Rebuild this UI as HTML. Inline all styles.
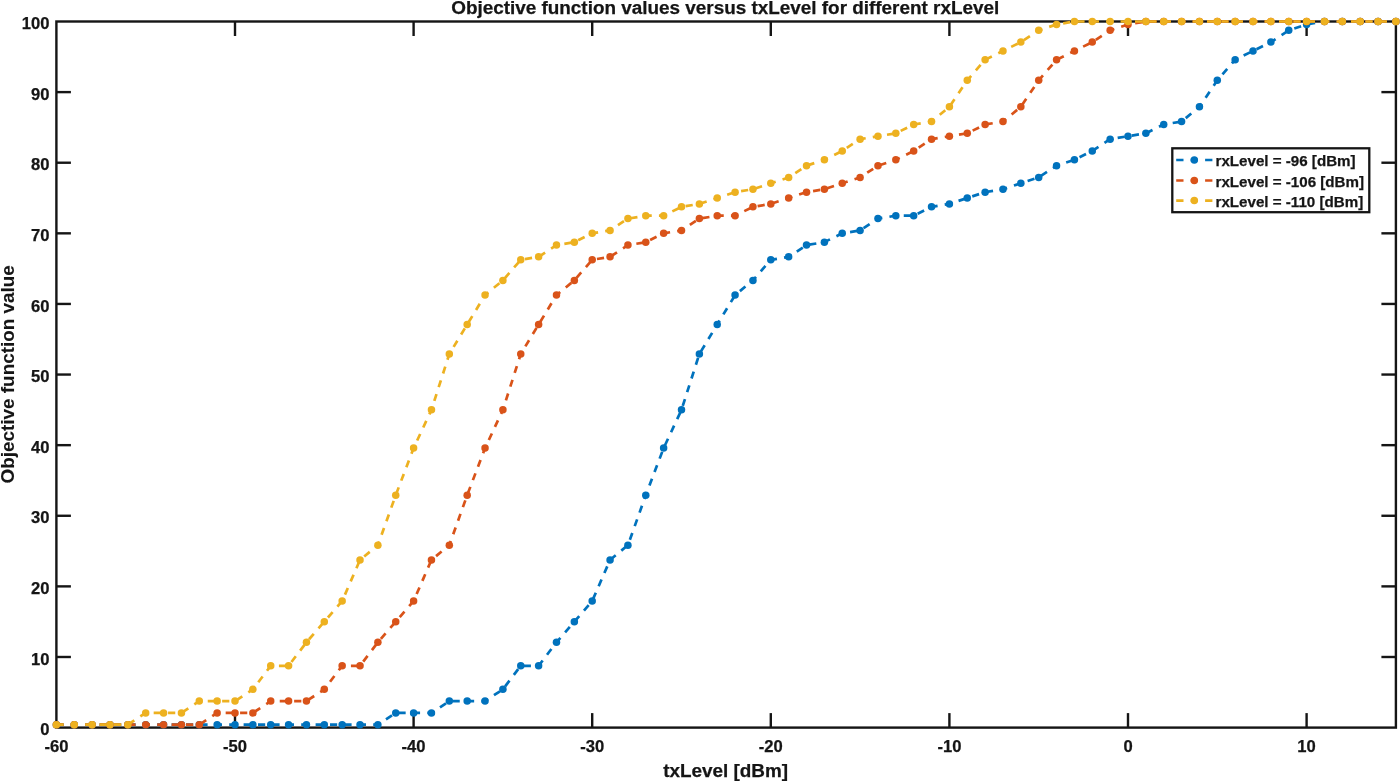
<!DOCTYPE html>
<html lang="en">
<head>
<meta charset="utf-8">
<title>Objective function values versus txLevel for different rxLevel</title>
<style>
html,body{margin:0;padding:0;background:#fff;}
body{width:1400px;height:781px;overflow:hidden;}
svg{display:block;}
text{font-family:"Liberation Sans",Arial,Helvetica,sans-serif;font-weight:bold;fill:#151515;stroke:#151515;stroke-width:0.25px;}
.tk{font-size:16.6px;}
.lb{font-size:18.9px;}
.lg{font-size:15.15px;}
</style>
</head>
<body>
<svg width="1400" height="781" viewBox="0 0 1400 781">
<rect x="0" y="0" width="1400" height="781" fill="#ffffff"/>

<g id="axes" stroke="#151515" stroke-width="2.4" fill="none" stroke-linecap="butt">
<rect x="56.40" y="21.50" width="1339.50" height="706.10"/>
<line x1="235.00" y1="727.60" x2="235.00" y2="713.10"/>
<line x1="235.00" y1="21.50" x2="235.00" y2="36.00"/>
<line x1="413.60" y1="727.60" x2="413.60" y2="713.10"/>
<line x1="413.60" y1="21.50" x2="413.60" y2="36.00"/>
<line x1="592.20" y1="727.60" x2="592.20" y2="713.10"/>
<line x1="592.20" y1="21.50" x2="592.20" y2="36.00"/>
<line x1="770.80" y1="727.60" x2="770.80" y2="713.10"/>
<line x1="770.80" y1="21.50" x2="770.80" y2="36.00"/>
<line x1="949.40" y1="727.60" x2="949.40" y2="713.10"/>
<line x1="949.40" y1="21.50" x2="949.40" y2="36.00"/>
<line x1="1128.00" y1="727.60" x2="1128.00" y2="713.10"/>
<line x1="1128.00" y1="21.50" x2="1128.00" y2="36.00"/>
<line x1="1306.60" y1="727.60" x2="1306.60" y2="713.10"/>
<line x1="1306.60" y1="21.50" x2="1306.60" y2="36.00"/>
<line x1="56.40" y1="656.99" x2="70.90" y2="656.99"/>
<line x1="1395.90" y1="656.99" x2="1381.40" y2="656.99"/>
<line x1="56.40" y1="586.38" x2="70.90" y2="586.38"/>
<line x1="1395.90" y1="586.38" x2="1381.40" y2="586.38"/>
<line x1="56.40" y1="515.77" x2="70.90" y2="515.77"/>
<line x1="1395.90" y1="515.77" x2="1381.40" y2="515.77"/>
<line x1="56.40" y1="445.16" x2="70.90" y2="445.16"/>
<line x1="1395.90" y1="445.16" x2="1381.40" y2="445.16"/>
<line x1="56.40" y1="374.55" x2="70.90" y2="374.55"/>
<line x1="1395.90" y1="374.55" x2="1381.40" y2="374.55"/>
<line x1="56.40" y1="303.94" x2="70.90" y2="303.94"/>
<line x1="1395.90" y1="303.94" x2="1381.40" y2="303.94"/>
<line x1="56.40" y1="233.33" x2="70.90" y2="233.33"/>
<line x1="1395.90" y1="233.33" x2="1381.40" y2="233.33"/>
<line x1="56.40" y1="162.72" x2="70.90" y2="162.72"/>
<line x1="1395.90" y1="162.72" x2="1381.40" y2="162.72"/>
<line x1="56.40" y1="92.11" x2="70.90" y2="92.11"/>
<line x1="1395.90" y1="92.11" x2="1381.40" y2="92.11"/>
</g>
<g id="xticklabels" class="tk" text-anchor="middle">
<text x="56.40" y="751.6">-60</text>
<text x="235.00" y="751.6">-50</text>
<text x="413.60" y="751.6">-40</text>
<text x="592.20" y="751.6">-30</text>
<text x="770.80" y="751.6">-20</text>
<text x="949.40" y="751.6">-10</text>
<text x="1128.00" y="751.6">0</text>
<text x="1306.60" y="751.6">10</text>
</g>
<g id="yticklabels" class="tk" text-anchor="end">
<text x="49.5" y="735.20">0</text>
<text x="49.5" y="664.59">10</text>
<text x="49.5" y="593.98">20</text>
<text x="49.5" y="523.37">30</text>
<text x="49.5" y="452.76">40</text>
<text x="49.5" y="382.15">50</text>
<text x="49.5" y="311.54">60</text>
<text x="49.5" y="240.93">70</text>
<text x="49.5" y="170.32">80</text>
<text x="49.5" y="99.71">90</text>
<text x="49.5" y="29.10">100</text>
</g>
<text class="lb" text-anchor="middle" x="725.2" y="14.1">Objective function values versus txLevel for different rxLevel</text>
<text class="lb" text-anchor="middle" x="725.6" y="776.6">txLevel [dBm]</text>
<text class="lb" text-anchor="middle" transform="translate(14.2 374.3) rotate(-90)" style="stroke-width:0.1px">Objective function value</text>
<g id="s96">
<polyline fill="none" stroke="#0072bd" stroke-width="2.7" stroke-dasharray="7.2 7.2" stroke-linejoin="round" points="56.40,724.66 74.26,724.66 92.12,724.66 109.98,724.66 127.84,724.66 145.70,724.66 163.56,724.66 181.42,724.66 199.28,724.66 217.14,724.66 235.00,724.66 252.86,724.66 270.72,724.66 288.58,724.66 306.44,724.66 324.30,724.66 342.16,724.66 360.02,724.66 377.88,724.66 395.74,712.89 413.60,712.89 431.46,712.89 449.32,701.12 467.18,701.12 485.04,701.12 502.90,689.35 520.76,665.82 538.62,665.82 556.48,642.28 574.34,621.69 592.20,601.09 610.06,559.90 627.92,545.19 645.78,495.18 663.64,448.10 681.50,409.86 699.36,353.96 717.22,324.53 735.08,295.11 752.94,280.40 770.80,259.81 788.66,256.87 806.52,245.10 824.38,242.16 842.24,233.33 860.10,230.39 877.96,218.62 895.82,215.68 913.68,215.68 931.54,206.85 949.40,203.91 967.26,198.02 985.12,192.14 1002.98,189.20 1020.84,183.31 1038.70,177.43 1056.56,165.66 1074.42,159.78 1092.28,150.95 1110.14,139.18 1128.00,136.24 1145.86,133.30 1163.72,124.47 1181.58,121.53 1199.44,106.82 1217.30,80.34 1235.16,59.75 1253.02,50.92 1270.88,42.09 1288.74,30.33 1306.60,24.44 1324.46,21.50 1342.32,21.50 1360.18,21.50 1378.04,21.50 1395.90,21.50"/>
<g fill="#0072bd"><circle cx="56.40" cy="724.66" r="3.75"/><circle cx="74.26" cy="724.66" r="3.75"/><circle cx="92.12" cy="724.66" r="3.75"/><circle cx="109.98" cy="724.66" r="3.75"/><circle cx="127.84" cy="724.66" r="3.75"/><circle cx="145.70" cy="724.66" r="3.75"/><circle cx="163.56" cy="724.66" r="3.75"/><circle cx="181.42" cy="724.66" r="3.75"/><circle cx="199.28" cy="724.66" r="3.75"/><circle cx="217.14" cy="724.66" r="3.75"/><circle cx="235.00" cy="724.66" r="3.75"/><circle cx="252.86" cy="724.66" r="3.75"/><circle cx="270.72" cy="724.66" r="3.75"/><circle cx="288.58" cy="724.66" r="3.75"/><circle cx="306.44" cy="724.66" r="3.75"/><circle cx="324.30" cy="724.66" r="3.75"/><circle cx="342.16" cy="724.66" r="3.75"/><circle cx="360.02" cy="724.66" r="3.75"/><circle cx="377.88" cy="724.66" r="3.75"/><circle cx="395.74" cy="712.89" r="3.75"/><circle cx="413.60" cy="712.89" r="3.75"/><circle cx="431.46" cy="712.89" r="3.75"/><circle cx="449.32" cy="701.12" r="3.75"/><circle cx="467.18" cy="701.12" r="3.75"/><circle cx="485.04" cy="701.12" r="3.75"/><circle cx="502.90" cy="689.35" r="3.75"/><circle cx="520.76" cy="665.82" r="3.75"/><circle cx="538.62" cy="665.82" r="3.75"/><circle cx="556.48" cy="642.28" r="3.75"/><circle cx="574.34" cy="621.69" r="3.75"/><circle cx="592.20" cy="601.09" r="3.75"/><circle cx="610.06" cy="559.90" r="3.75"/><circle cx="627.92" cy="545.19" r="3.75"/><circle cx="645.78" cy="495.18" r="3.75"/><circle cx="663.64" cy="448.10" r="3.75"/><circle cx="681.50" cy="409.86" r="3.75"/><circle cx="699.36" cy="353.96" r="3.75"/><circle cx="717.22" cy="324.53" r="3.75"/><circle cx="735.08" cy="295.11" r="3.75"/><circle cx="752.94" cy="280.40" r="3.75"/><circle cx="770.80" cy="259.81" r="3.75"/><circle cx="788.66" cy="256.87" r="3.75"/><circle cx="806.52" cy="245.10" r="3.75"/><circle cx="824.38" cy="242.16" r="3.75"/><circle cx="842.24" cy="233.33" r="3.75"/><circle cx="860.10" cy="230.39" r="3.75"/><circle cx="877.96" cy="218.62" r="3.75"/><circle cx="895.82" cy="215.68" r="3.75"/><circle cx="913.68" cy="215.68" r="3.75"/><circle cx="931.54" cy="206.85" r="3.75"/><circle cx="949.40" cy="203.91" r="3.75"/><circle cx="967.26" cy="198.02" r="3.75"/><circle cx="985.12" cy="192.14" r="3.75"/><circle cx="1002.98" cy="189.20" r="3.75"/><circle cx="1020.84" cy="183.31" r="3.75"/><circle cx="1038.70" cy="177.43" r="3.75"/><circle cx="1056.56" cy="165.66" r="3.75"/><circle cx="1074.42" cy="159.78" r="3.75"/><circle cx="1092.28" cy="150.95" r="3.75"/><circle cx="1110.14" cy="139.18" r="3.75"/><circle cx="1128.00" cy="136.24" r="3.75"/><circle cx="1145.86" cy="133.30" r="3.75"/><circle cx="1163.72" cy="124.47" r="3.75"/><circle cx="1181.58" cy="121.53" r="3.75"/><circle cx="1199.44" cy="106.82" r="3.75"/><circle cx="1217.30" cy="80.34" r="3.75"/><circle cx="1235.16" cy="59.75" r="3.75"/><circle cx="1253.02" cy="50.92" r="3.75"/><circle cx="1270.88" cy="42.09" r="3.75"/><circle cx="1288.74" cy="30.33" r="3.75"/><circle cx="1306.60" cy="24.44" r="3.75"/><circle cx="1324.46" cy="21.50" r="3.75"/><circle cx="1342.32" cy="21.50" r="3.75"/><circle cx="1360.18" cy="21.50" r="3.75"/><circle cx="1378.04" cy="21.50" r="3.75"/><circle cx="1395.90" cy="21.50" r="3.75"/></g>
</g>
<g id="s106">
<polyline fill="none" stroke="#d95319" stroke-width="2.7" stroke-dasharray="7.2 7.2" stroke-linejoin="round" points="56.40,724.66 74.26,724.66 92.12,724.66 109.98,724.66 127.84,724.66 145.70,724.66 163.56,724.66 181.42,724.66 199.28,724.66 217.14,712.89 235.00,712.89 252.86,712.89 270.72,701.12 288.58,701.12 306.44,701.12 324.30,689.35 342.16,665.82 360.02,665.82 377.88,642.28 395.74,621.69 413.60,601.09 431.46,559.90 449.32,545.19 467.18,495.18 485.04,448.10 502.90,409.86 520.76,353.96 538.62,324.53 556.48,295.11 574.34,280.40 592.20,259.81 610.06,256.87 627.92,245.10 645.78,242.16 663.64,233.33 681.50,230.39 699.36,218.62 717.22,215.68 735.08,215.68 752.94,206.85 770.80,203.91 788.66,198.02 806.52,192.14 824.38,189.20 842.24,183.31 860.10,177.43 877.96,165.66 895.82,159.78 913.68,150.95 931.54,139.18 949.40,136.24 967.26,133.30 985.12,124.47 1002.98,121.53 1020.84,106.82 1038.70,80.34 1056.56,59.75 1074.42,50.92 1092.28,42.09 1110.14,30.33 1128.00,24.44 1145.86,21.50 1163.72,21.50 1181.58,21.50 1199.44,21.50 1217.30,21.50 1235.16,21.50 1253.02,21.50 1270.88,21.50 1288.74,21.50 1306.60,21.50 1324.46,21.50 1342.32,21.50 1360.18,21.50 1378.04,21.50 1395.90,21.50"/>
<g fill="#d95319"><circle cx="56.40" cy="724.66" r="3.75"/><circle cx="74.26" cy="724.66" r="3.75"/><circle cx="92.12" cy="724.66" r="3.75"/><circle cx="109.98" cy="724.66" r="3.75"/><circle cx="127.84" cy="724.66" r="3.75"/><circle cx="145.70" cy="724.66" r="3.75"/><circle cx="163.56" cy="724.66" r="3.75"/><circle cx="181.42" cy="724.66" r="3.75"/><circle cx="199.28" cy="724.66" r="3.75"/><circle cx="217.14" cy="712.89" r="3.75"/><circle cx="235.00" cy="712.89" r="3.75"/><circle cx="252.86" cy="712.89" r="3.75"/><circle cx="270.72" cy="701.12" r="3.75"/><circle cx="288.58" cy="701.12" r="3.75"/><circle cx="306.44" cy="701.12" r="3.75"/><circle cx="324.30" cy="689.35" r="3.75"/><circle cx="342.16" cy="665.82" r="3.75"/><circle cx="360.02" cy="665.82" r="3.75"/><circle cx="377.88" cy="642.28" r="3.75"/><circle cx="395.74" cy="621.69" r="3.75"/><circle cx="413.60" cy="601.09" r="3.75"/><circle cx="431.46" cy="559.90" r="3.75"/><circle cx="449.32" cy="545.19" r="3.75"/><circle cx="467.18" cy="495.18" r="3.75"/><circle cx="485.04" cy="448.10" r="3.75"/><circle cx="502.90" cy="409.86" r="3.75"/><circle cx="520.76" cy="353.96" r="3.75"/><circle cx="538.62" cy="324.53" r="3.75"/><circle cx="556.48" cy="295.11" r="3.75"/><circle cx="574.34" cy="280.40" r="3.75"/><circle cx="592.20" cy="259.81" r="3.75"/><circle cx="610.06" cy="256.87" r="3.75"/><circle cx="627.92" cy="245.10" r="3.75"/><circle cx="645.78" cy="242.16" r="3.75"/><circle cx="663.64" cy="233.33" r="3.75"/><circle cx="681.50" cy="230.39" r="3.75"/><circle cx="699.36" cy="218.62" r="3.75"/><circle cx="717.22" cy="215.68" r="3.75"/><circle cx="735.08" cy="215.68" r="3.75"/><circle cx="752.94" cy="206.85" r="3.75"/><circle cx="770.80" cy="203.91" r="3.75"/><circle cx="788.66" cy="198.02" r="3.75"/><circle cx="806.52" cy="192.14" r="3.75"/><circle cx="824.38" cy="189.20" r="3.75"/><circle cx="842.24" cy="183.31" r="3.75"/><circle cx="860.10" cy="177.43" r="3.75"/><circle cx="877.96" cy="165.66" r="3.75"/><circle cx="895.82" cy="159.78" r="3.75"/><circle cx="913.68" cy="150.95" r="3.75"/><circle cx="931.54" cy="139.18" r="3.75"/><circle cx="949.40" cy="136.24" r="3.75"/><circle cx="967.26" cy="133.30" r="3.75"/><circle cx="985.12" cy="124.47" r="3.75"/><circle cx="1002.98" cy="121.53" r="3.75"/><circle cx="1020.84" cy="106.82" r="3.75"/><circle cx="1038.70" cy="80.34" r="3.75"/><circle cx="1056.56" cy="59.75" r="3.75"/><circle cx="1074.42" cy="50.92" r="3.75"/><circle cx="1092.28" cy="42.09" r="3.75"/><circle cx="1110.14" cy="30.33" r="3.75"/><circle cx="1128.00" cy="24.44" r="3.75"/><circle cx="1145.86" cy="21.50" r="3.75"/><circle cx="1163.72" cy="21.50" r="3.75"/><circle cx="1181.58" cy="21.50" r="3.75"/><circle cx="1199.44" cy="21.50" r="3.75"/><circle cx="1217.30" cy="21.50" r="3.75"/><circle cx="1235.16" cy="21.50" r="3.75"/><circle cx="1253.02" cy="21.50" r="3.75"/><circle cx="1270.88" cy="21.50" r="3.75"/><circle cx="1288.74" cy="21.50" r="3.75"/><circle cx="1306.60" cy="21.50" r="3.75"/><circle cx="1324.46" cy="21.50" r="3.75"/><circle cx="1342.32" cy="21.50" r="3.75"/><circle cx="1360.18" cy="21.50" r="3.75"/><circle cx="1378.04" cy="21.50" r="3.75"/><circle cx="1395.90" cy="21.50" r="3.75"/></g>
</g>
<g id="s110">
<polyline fill="none" stroke="#edb120" stroke-width="2.7" stroke-dasharray="7.2 7.2" stroke-linejoin="round" points="56.40,724.66 74.26,724.66 92.12,724.66 109.98,724.66 127.84,724.66 145.70,712.89 163.56,712.89 181.42,712.89 199.28,701.12 217.14,701.12 235.00,701.12 252.86,689.35 270.72,665.82 288.58,665.82 306.44,642.28 324.30,621.69 342.16,601.09 360.02,559.90 377.88,545.19 395.74,495.18 413.60,448.10 431.46,409.86 449.32,353.96 467.18,324.53 485.04,295.11 502.90,280.40 520.76,259.81 538.62,256.87 556.48,245.10 574.34,242.16 592.20,233.33 610.06,230.39 627.92,218.62 645.78,215.68 663.64,215.68 681.50,206.85 699.36,203.91 717.22,198.02 735.08,192.14 752.94,189.20 770.80,183.31 788.66,177.43 806.52,165.66 824.38,159.78 842.24,150.95 860.10,139.18 877.96,136.24 895.82,133.30 913.68,124.47 931.54,121.53 949.40,106.82 967.26,80.34 985.12,59.75 1002.98,50.92 1020.84,42.09 1038.70,30.33 1056.56,24.44 1074.42,21.50 1092.28,21.50 1110.14,21.50 1128.00,21.50 1145.86,21.50 1163.72,21.50 1181.58,21.50 1199.44,21.50 1217.30,21.50 1235.16,21.50 1253.02,21.50 1270.88,21.50 1288.74,21.50 1306.60,21.50 1324.46,21.50 1342.32,21.50 1360.18,21.50 1378.04,21.50 1395.90,21.50"/>
<g fill="#edb120"><circle cx="56.40" cy="724.66" r="3.75"/><circle cx="74.26" cy="724.66" r="3.75"/><circle cx="92.12" cy="724.66" r="3.75"/><circle cx="109.98" cy="724.66" r="3.75"/><circle cx="127.84" cy="724.66" r="3.75"/><circle cx="145.70" cy="712.89" r="3.75"/><circle cx="163.56" cy="712.89" r="3.75"/><circle cx="181.42" cy="712.89" r="3.75"/><circle cx="199.28" cy="701.12" r="3.75"/><circle cx="217.14" cy="701.12" r="3.75"/><circle cx="235.00" cy="701.12" r="3.75"/><circle cx="252.86" cy="689.35" r="3.75"/><circle cx="270.72" cy="665.82" r="3.75"/><circle cx="288.58" cy="665.82" r="3.75"/><circle cx="306.44" cy="642.28" r="3.75"/><circle cx="324.30" cy="621.69" r="3.75"/><circle cx="342.16" cy="601.09" r="3.75"/><circle cx="360.02" cy="559.90" r="3.75"/><circle cx="377.88" cy="545.19" r="3.75"/><circle cx="395.74" cy="495.18" r="3.75"/><circle cx="413.60" cy="448.10" r="3.75"/><circle cx="431.46" cy="409.86" r="3.75"/><circle cx="449.32" cy="353.96" r="3.75"/><circle cx="467.18" cy="324.53" r="3.75"/><circle cx="485.04" cy="295.11" r="3.75"/><circle cx="502.90" cy="280.40" r="3.75"/><circle cx="520.76" cy="259.81" r="3.75"/><circle cx="538.62" cy="256.87" r="3.75"/><circle cx="556.48" cy="245.10" r="3.75"/><circle cx="574.34" cy="242.16" r="3.75"/><circle cx="592.20" cy="233.33" r="3.75"/><circle cx="610.06" cy="230.39" r="3.75"/><circle cx="627.92" cy="218.62" r="3.75"/><circle cx="645.78" cy="215.68" r="3.75"/><circle cx="663.64" cy="215.68" r="3.75"/><circle cx="681.50" cy="206.85" r="3.75"/><circle cx="699.36" cy="203.91" r="3.75"/><circle cx="717.22" cy="198.02" r="3.75"/><circle cx="735.08" cy="192.14" r="3.75"/><circle cx="752.94" cy="189.20" r="3.75"/><circle cx="770.80" cy="183.31" r="3.75"/><circle cx="788.66" cy="177.43" r="3.75"/><circle cx="806.52" cy="165.66" r="3.75"/><circle cx="824.38" cy="159.78" r="3.75"/><circle cx="842.24" cy="150.95" r="3.75"/><circle cx="860.10" cy="139.18" r="3.75"/><circle cx="877.96" cy="136.24" r="3.75"/><circle cx="895.82" cy="133.30" r="3.75"/><circle cx="913.68" cy="124.47" r="3.75"/><circle cx="931.54" cy="121.53" r="3.75"/><circle cx="949.40" cy="106.82" r="3.75"/><circle cx="967.26" cy="80.34" r="3.75"/><circle cx="985.12" cy="59.75" r="3.75"/><circle cx="1002.98" cy="50.92" r="3.75"/><circle cx="1020.84" cy="42.09" r="3.75"/><circle cx="1038.70" cy="30.33" r="3.75"/><circle cx="1056.56" cy="24.44" r="3.75"/><circle cx="1074.42" cy="21.50" r="3.75"/><circle cx="1092.28" cy="21.50" r="3.75"/><circle cx="1110.14" cy="21.50" r="3.75"/><circle cx="1128.00" cy="21.50" r="3.75"/><circle cx="1145.86" cy="21.50" r="3.75"/><circle cx="1163.72" cy="21.50" r="3.75"/><circle cx="1181.58" cy="21.50" r="3.75"/><circle cx="1199.44" cy="21.50" r="3.75"/><circle cx="1217.30" cy="21.50" r="3.75"/><circle cx="1235.16" cy="21.50" r="3.75"/><circle cx="1253.02" cy="21.50" r="3.75"/><circle cx="1270.88" cy="21.50" r="3.75"/><circle cx="1288.74" cy="21.50" r="3.75"/><circle cx="1306.60" cy="21.50" r="3.75"/><circle cx="1324.46" cy="21.50" r="3.75"/><circle cx="1342.32" cy="21.50" r="3.75"/><circle cx="1360.18" cy="21.50" r="3.75"/><circle cx="1378.04" cy="21.50" r="3.75"/><circle cx="1395.90" cy="21.50" r="3.75"/></g>
</g>
<g id="legend">
<rect x="1172.30" y="148.30" width="197.00" height="63.90" fill="#ffffff" stroke="#151515" stroke-width="2.3"/>
<line x1="1176.2" y1="160.00" x2="1212.4" y2="160.00" stroke="#0072bd" stroke-width="2.7" stroke-dasharray="7.3 7.15"/>
<circle cx="1194.3" cy="160.00" r="3.75" fill="#0072bd"/>
<text class="lg" x="1215.5" y="166.00">rxLevel = -96 [dBm]</text>
<line x1="1176.2" y1="180.50" x2="1212.4" y2="180.50" stroke="#d95319" stroke-width="2.7" stroke-dasharray="7.3 7.15"/>
<circle cx="1194.3" cy="180.50" r="3.75" fill="#d95319"/>
<text class="lg" x="1215.5" y="186.50">rxLevel = -106 [dBm]</text>
<line x1="1176.2" y1="200.60" x2="1212.4" y2="200.60" stroke="#edb120" stroke-width="2.7" stroke-dasharray="7.3 7.15"/>
<circle cx="1194.3" cy="200.60" r="3.75" fill="#edb120"/>
<text class="lg" x="1215.5" y="206.60">rxLevel = -110 [dBm]</text>
</g>
</svg>
</body>
</html>
